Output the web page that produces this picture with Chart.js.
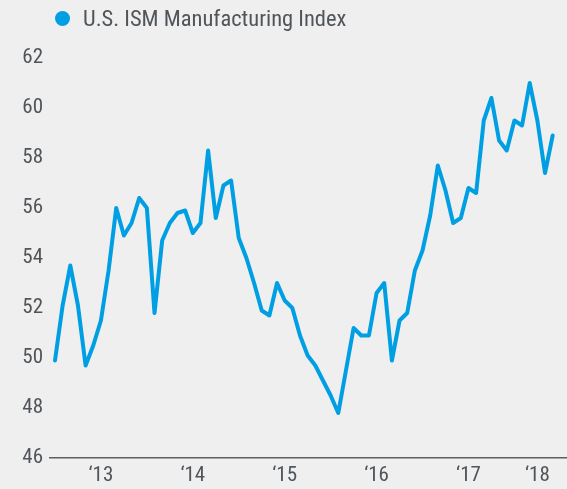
<!DOCTYPE html>
<html>
<head>
<meta charset="utf-8">
<script src="https://cdn.jsdelivr.net/npm/chart.js@4"></script>
<style>
    body { margin: 0; background: #efefef; }
    #wrap { position: relative; width: 567px; height: 489px; }
</style>
</head>
<body>
<div id="wrap"><canvas id="ism-chart"></canvas></div>
<script>
// ISM manufacturing index, monthly Dec 2012 - May 2018
const seriesLabel = 'U.S. ISM Manufacturing Index';
const ismValues = [
    49.9, 52.1, 53.7, 52.1, 49.7, 50.5, 51.5, 53.5, 56.0, 54.9,
    55.4, 56.4, 56.0, 51.8, 54.7, 55.4, 55.8, 55.9, 55.0, 55.4,
    58.3, 55.6, 56.9, 57.1, 54.8, 54.0, 53.0, 51.9, 51.7, 53.0,
    52.3, 52.0, 50.9, 50.1, 49.7, 49.1, 48.5, 47.8, 49.5, 51.2,
    50.9, 50.9, 52.6, 53.0, 49.9, 51.5, 51.8, 53.5, 54.3, 55.7,
    57.7, 56.7, 55.4, 55.6, 56.8, 56.6, 59.5, 60.4, 58.7, 58.3,
    59.5, 59.3, 61.0, 59.5, 57.4, 58.9
];
const yearTickIndex = [6, 18, 30, 42, 54, 63];
const yearTickLabels = ['\u201813', '\u201814', '\u201815', '\u201816', '\u201817', '\u201818'];

const lineColor = '#009fe3';
const textColor = '#50555a';
const fontFamily = "'Liberation Sans Narrow', 'Arial Narrow', 'Roboto Condensed', 'DejaVu Sans Condensed', Roboto, sans-serif";

const points = ismValues.map((v, i) => ({ x: i, y: v }));

// simple legend drawn on top of the chart
const topLegend = {
    id: 'topLegend',
    afterDraw(chart) {
        const ctx = chart.ctx;
        const ds = chart.data.datasets[0];
        ctx.save();
        ctx.fillStyle = ds.borderColor;
        ctx.beginPath();
        ctx.arc(62.5, 18.5, 7.5, 0, Math.PI * 2);
        ctx.fill();
        ctx.fillStyle = textColor;
        ctx.font = `22.5px ${fontFamily}`;
        ctx.textBaseline = 'middle';
        ctx.fillText(ds.label, 83, 20);
        ctx.restore();
    }
};

new Chart(document.getElementById('ism-chart'), {
    type: 'line',
    data: {
        datasets: [{
            label: seriesLabel,
            data: points,
            borderColor: lineColor,
            backgroundColor: lineColor,
            borderWidth: 4,
            borderJoinStyle: 'round',
            borderCapStyle: 'round',
            pointRadius: 0,
            tension: 0,
            fill: false
        }]
    },
    options: {
        responsive: true,
        maintainAspectRatio: false,
        animation: false,
        layout: { padding: { top: 58, left: 0, right: 0, bottom: 0 } },
        plugins: {
            legend: { display: false },
            tooltip: { enabled: false }
        },
        scales: {
            x: {
                type: 'linear',
                min: -0.65,
                max: 66.87,
                grid: { display: false, drawTicks: false },
                border: { display: true, color: '#5b5f63', width: 1.5 },
                afterBuildTicks: (scale) => {
                    scale.ticks = yearTickIndex.map(v => ({ value: v }));
                },
                afterFit: (scale) => { scale.height = 31; },
                ticks: {
                    autoSkip: false,
                    maxRotation: 0,
                    padding: 5,
                    color: textColor,
                    font: { family: fontFamily, size: 21 },
                    callback: (value) => yearTickLabels[yearTickIndex.indexOf(value)]
                }
            },
            y: {
                min: 46,
                max: 62,
                grid: { display: false, drawTicks: false },
                border: { display: false },
                afterFit: (scale) => { scale.width = 50; },
                ticks: {
                    stepSize: 2,
                    padding: 7,
                    color: textColor,
                    font: { family: fontFamily, size: 21 }
                }
            }
        }
    },
    plugins: [topLegend]
});
</script>
</body>
</html>
